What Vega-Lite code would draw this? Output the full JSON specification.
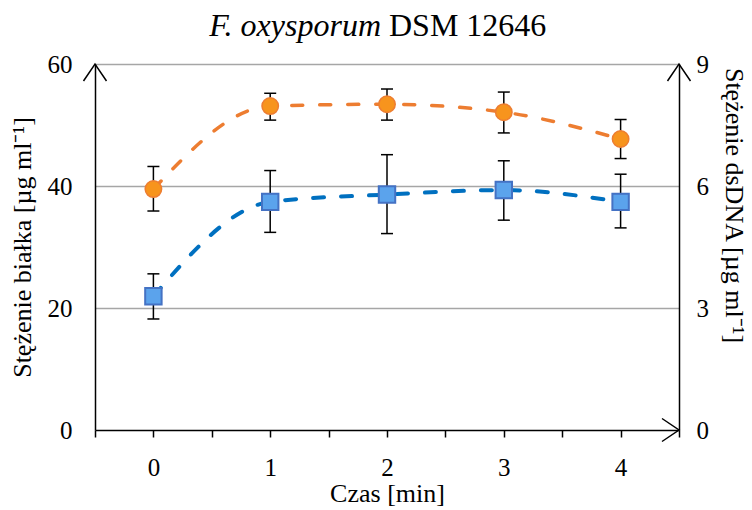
{
  "$schema": "https://vega.github.io/schema/vega-lite/v6.json",
  "width": 584,
  "height": 366,
  "autosize": {"type": "none"},
  "padding": {"left": 95, "top": 64, "right": 73, "bottom": 80},
  "background": "white",
  "config": {
    "view": {"stroke": null},
    "font": "Liberation Serif",
    "axis": {
      "labelFont": "Liberation Serif",
      "titleFont": "Liberation Serif",
      "labelColor": "black",
      "titleColor": "black",
      "titleFontWeight": "normal",
      "labelFontSize": 25,
      "titleFontSize": 26,
      "domainColor": "black",
      "domainWidth": 1.5
    }
  },
  "data": {
    "values": [
      {"t": 0, "protein": 39.5, "protein_lo": 35.9, "protein_hi": 43.2, "dna": 3.29, "dna_lo": 2.73, "dna_hi": 3.84},
      {"t": 1, "protein": 53.1, "protein_lo": 50.8, "protein_hi": 55.2, "dna": 5.61, "dna_lo": 4.86, "dna_hi": 6.38},
      {"t": 2, "protein": 53.4, "protein_lo": 50.8, "protein_hi": 55.9, "dna": 5.79, "dna_lo": 4.83, "dna_hi": 6.77},
      {"t": 3, "protein": 52.1, "protein_lo": 48.7, "protein_hi": 55.4, "dna": 5.90, "dna_lo": 5.16, "dna_hi": 6.62},
      {"t": 4, "protein": 47.7, "protein_lo": 44.5, "protein_hi": 50.9, "dna": 5.61, "dna_lo": 4.97, "dna_hi": 6.29}
    ]
  },
  "encoding": {
    "x": {
      "field": "t",
      "type": "quantitative",
      "scale": {"domain": [-0.5, 4.5], "nice": false, "zero": false},
      "axis": {
        "title": "Czas [min]",
        "values": [-0.5, 0, 0.5, 1, 1.5, 2, 2.5, 3, 3.5, 4, 4.5],
        "labelExpr": "datum.value % 1 == 0 ? format(datum.value, 'd') : ''",
        "tickColor": "black",
        "tickSize": 7,
        "tickWidth": 1.5,
        "grid": false,
        "labelPadding": 18,
        "titlePadding": 0,
        "labelFlush": false,
        "labelOverlap": false
      }
    }
  },
  "layer": [
    {
      "encoding": {
        "y": {
          "field": "protein",
          "type": "quantitative",
          "title": "Stężenie białka [µg ml⁻¹]",
          "scale": {"domain": [0, 60], "nice": false, "zero": true},
          "axis": {
            "orient": "left",
            "title": "Stężenie białka [µg ml⁻¹]",
            "values": [0, 20, 40, 60],
            "ticks": false,
            "grid": true,
            "gridColor": "#A6A6A6",
            "gridWidth": 1.5,
            "gridOpacity": {"condition": {"test": "datum.value == 0", "value": 0}, "value": 1},
            "labelPadding": 23,
            "titlePadding": 12
          }
        }
      },
      "layer": [
        {
          "mark": {"type": "line", "interpolate": "monotone", "color": "#ED7D31", "strokeWidth": 3.5, "strokeDash": [11, 17], "strokeCap": "round"}
        },
        {
          "mark": {"type": "rule", "color": "black", "strokeWidth": 1.5},
          "encoding": {
            "y": {"field": "protein_lo", "type": "quantitative", "title": "Stężenie białka [µg ml⁻¹]"},
            "y2": {"field": "protein_hi"}
          }
        },
        {
          "mark": {"type": "point", "shape": "stroke", "size": 144, "color": "black", "strokeWidth": 1.5, "opacity": 1},
          "encoding": {"y": {"field": "protein_lo", "type": "quantitative", "title": "Stężenie białka [µg ml⁻¹]"}}
        },
        {
          "mark": {"type": "point", "shape": "stroke", "size": 144, "color": "black", "strokeWidth": 1.5, "opacity": 1},
          "encoding": {"y": {"field": "protein_hi", "type": "quantitative", "title": "Stężenie białka [µg ml⁻¹]"}}
        },
        {
          "mark": {"type": "point", "shape": "circle", "size": 270, "filled": true, "fill": "#F7941D", "stroke": "#ED7D31", "strokeWidth": 1.5, "opacity": 1}
        },
        {
          "transform": [{"filter": "datum.t == 0"}],
          "mark": {"type": "point", "shape": "M-1.15,1.7L0,0L1.15,1.7", "size": 400, "filled": false, "stroke": "black", "strokeWidth": 1.5, "opacity": 1},
          "encoding": {"x": {"datum": -0.5, "type": "quantitative"}, "y": {"datum": 60, "type": "quantitative"}}
        },
        {
          "transform": [{"filter": "datum.t == 0"}],
          "mark": {"type": "point", "shape": "M-1.15,1.7L0,0L1.15,1.7", "size": 400, "filled": false, "stroke": "black", "strokeWidth": 1.5, "opacity": 1},
          "encoding": {"x": {"datum": 4.5, "type": "quantitative"}, "y": {"datum": 60, "type": "quantitative"}}
        },
        {
          "transform": [{"filter": "datum.t == 0"}],
          "mark": {"type": "point", "shape": "M-1.7,-1.15L0,0L-1.7,1.15", "size": 400, "filled": false, "stroke": "black", "strokeWidth": 1.5, "opacity": 1},
          "encoding": {"x": {"datum": 4.5, "type": "quantitative"}, "y": {"datum": 0, "type": "quantitative"}}
        },
        {
          "transform": [{"filter": "datum.t == 0"}],
          "mark": {"type": "text", "text": "F. oxysporum", "font": "Liberation Serif", "fontStyle": "italic", "fontSize": 32, "align": "right", "baseline": "alphabetic", "dx": -6, "dy": -28, "color": "black"},
          "encoding": {"x": {"datum": 2, "type": "quantitative"}, "y": {"datum": 60, "type": "quantitative"}}
        },
        {
          "transform": [{"filter": "datum.t == 0"}],
          "mark": {"type": "text", "text": "DSM 12646", "font": "Liberation Serif", "fontSize": 32, "align": "left", "baseline": "alphabetic", "dx": 2, "dy": -28, "color": "black"},
          "encoding": {"x": {"datum": 2, "type": "quantitative"}, "y": {"datum": 60, "type": "quantitative"}}
        }
      ]
    },
    {
      "encoding": {
        "y": {
          "field": "dna",
          "type": "quantitative",
          "title": "Stężenie dsDNA [µg ml⁻¹]",
          "scale": {"domain": [0, 9], "nice": false, "zero": true},
          "axis": {
            "orient": "right",
            "title": "Stężenie dsDNA [µg ml⁻¹]",
            "values": [0, 3, 6, 9],
            "ticks": false,
            "grid": false,
            "labelPadding": 17,
            "titlePadding": 12,
            "titleY": 141
          }
        }
      },
      "layer": [
        {
          "mark": {"type": "line", "interpolate": "monotone", "color": "#0070C0", "strokeWidth": 4, "strokeDash": [11, 17], "strokeCap": "round"}
        },
        {
          "mark": {"type": "rule", "color": "black", "strokeWidth": 1.5},
          "encoding": {
            "y": {"field": "dna_lo", "type": "quantitative", "title": "Stężenie dsDNA [µg ml⁻¹]"},
            "y2": {"field": "dna_hi"}
          }
        },
        {
          "mark": {"type": "point", "shape": "stroke", "size": 144, "color": "black", "strokeWidth": 1.5, "opacity": 1},
          "encoding": {"y": {"field": "dna_lo", "type": "quantitative", "title": "Stężenie dsDNA [µg ml⁻¹]"}}
        },
        {
          "mark": {"type": "point", "shape": "stroke", "size": 144, "color": "black", "strokeWidth": 1.5, "opacity": 1},
          "encoding": {"y": {"field": "dna_hi", "type": "quantitative", "title": "Stężenie dsDNA [µg ml⁻¹]"}}
        },
        {
          "mark": {"type": "point", "shape": "square", "size": 270, "filled": true, "fill": "#5BA3EC", "stroke": "#4472C4", "strokeWidth": 2, "opacity": 1}
        }
      ]
    }
  ],
  "resolve": {"scale": {"y": "independent"}, "axis": {"y": "independent"}}
}
